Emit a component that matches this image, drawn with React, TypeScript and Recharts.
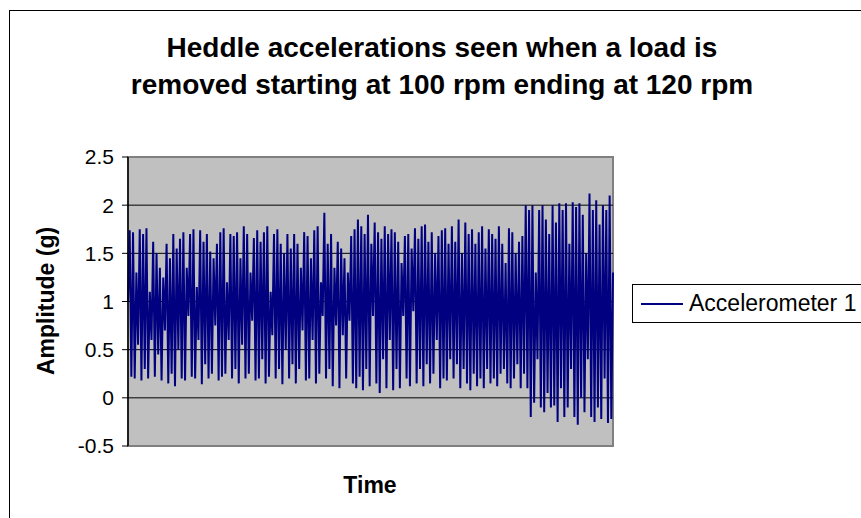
import { LineChart, Line, XAxis, YAxis, ReferenceLine, ReferenceArea } from 'recharts'

// accelerometer samples, left to right
const segStart = [
  1.0, 1.74, 0.22, 1.72, 0.2, 1.3, 0.55, 1.75, 0.18, 1.7, 0.3, 1.76, 0.2, 1.1, 0.6, 1.62,
  0.22, 1.5, 0.45, 1.35, 0.18, 1.25, 0.7, 1.6, 0.15, 1.45, 0.25, 1.7, 0.12, 1.55, 0.5, 1.65,
  0.2, 1.72, 0.18, 1.35, 0.85, 1.7, 0.22, 1.75, 0.2, 1.15, 0.6, 1.74, 0.14, 1.62, 0.35, 1.7,
  0.2, 1.52, 0.25, 1.45, 0.75, 1.6, 0.18, 1.72, 0.22, 1.76, 0.25, 1.2, 0.6, 1.7, 0.2, 1.68,
  0.3, 1.72, 0.15, 1.45, 0.55, 1.78, 0.2, 1.7, 0.25, 1.3, 0.8, 1.66, 0.18, 1.74, 0.2, 1.62,
  0.4, 1.72, 0.15, 1.78, 0.22, 1.1, 0.65, 1.7, 0.2, 1.75, 0.3, 1.6, 0.14, 1.5, 0.5, 1.7,
]
const segMiddle = [
  0.2, 1.55, 0.35, 1.7, 0.15, 1.6, 0.3, 1.35, 0.7, 1.72, 0.18, 1.68, 0.2, 1.45, 0.6, 1.74,
  0.15, 1.78, 0.25, 1.2, 0.85, 1.92, 0.2, 1.6, 0.3, 1.7, 0.12, 1.35, 0.75, 1.62, 0.1, 1.55,
  0.65, 1.45, 0.2, 1.3, 0.8, 1.68, 0.15, 1.75, 0.1, 1.85, 0.22, 1.78, 0.08, 1.7, 0.3, 1.9,
  0.12, 1.6, 0.85, 1.82, 0.15, 1.72, 0.05, 1.65, 0.4, 1.78, 0.1, 1.7, 0.6, 1.75, 0.08, 1.72,
  0.3, 1.62, 0.1, 1.4, 0.85, 1.68, 0.2, 1.7, 0.12, 1.55, 0.9, 1.76, 0.15, 1.65, 0.3, 1.78,
  0.12, 1.8, 0.35, 1.62, 0.15, 1.72, 0.25, 1.5, 0.6, 1.68, 0.1, 1.74, 0.2, 1.76, 0.18, 1.6,
]
const segLate = [
  0.4, 1.78, 0.2, 1.62, 0.35, 1.85, 0.1, 1.5, 0.3, 1.82, 0.15, 1.7, 0.08, 1.75, 0.25, 1.6,
  0.12, 1.72, 0.2, 1.78, 0.1, 1.55, 0.3, 1.75, 0.15, 1.7, 0.2, 1.65, 0.12, 1.78, 0.25, 1.6,
  0.3, 1.4, 0.15, 1.76, 0.1, 1.72, 0.2, 1.5, 0.35, 1.62, 0.1, 1.68,
]
const segUnloaded = [
  0.25, 2.0, 0.1, 1.95, -0.2, 2.0, -0.05, 1.3, 0.4, 1.95, -0.1, 2.0, -0.15, 1.85, 0.05, 1.7,
  -0.1, 2.0, -0.08, 1.82, -0.25, 2.02, 0.1, 1.95, -0.2, 2.02, -0.1, 1.6, 0.3, 2.03, -0.2, 1.98,
  -0.28, 2.02, 0.0, 1.9, -0.15, 1.5, 0.4, 2.12, -0.2, 1.95, -0.25, 2.05, -0.1, 1.8, -0.22, 2.0,
  0.2, 1.95, -0.26, 2.1, -0.22, 1.3,
]

const accelerometer1 = [...segStart, ...segMiddle, ...segLate, ...segUnloaded]
const yTicks = [-0.5, 0, 0.5, 1, 1.5, 2, 2.5]
const gridValues = [0, 0.5, 1, 1.5, 2]

const data = accelerometer1.map((v, i) => ({ t: i, a1: v }))

const font = '"Liberation Sans", Arial, sans-serif'

export default function App() {
  return (
    <div style={{ position: 'absolute', left: 0, top: 0, width: 861, height: 518, overflow: 'hidden', background: '#fff', fontFamily: font }}>
      <div style={{ position: 'absolute', left: 9, top: 10, width: 900, height: 560, border: '1px solid #000' }} />

      <div style={{ position: 'absolute', left: 0, top: 29, width: 884, textAlign: 'center', fontSize: 28, fontWeight: 'bold', lineHeight: '37px' }}>
        Heddle accelerations seen when a load is
        <br />
        removed starting at 100 rpm ending at 120 rpm
      </div>

      <LineChart width={861} height={518} data={data} margin={{ top: 157, right: 248, bottom: 72, left: 68 }} style={{ position: 'absolute', left: 0, top: 0 }}>
        <XAxis dataKey="t" hide />
        <ReferenceArea y1={-0.5} y2={2.5} fill="#C0C0C0" fillOpacity={1} stroke="#808080" strokeWidth={2} />
        {gridValues.map((g) => (
          <ReferenceLine key={g} y={g} stroke="#000" strokeWidth={1} />
        ))}
        <YAxis
          width={60}
          domain={[-0.5, 2.5]}
          ticks={yTicks}
          interval={0}
          axisLine={{ stroke: '#000', strokeWidth: 1.5 }}
          tickLine={{ stroke: '#000' }}
          tickSize={6}
          tickMargin={8}
          tick={{ fill: '#000', fontSize: 21, fontFamily: font }}
        />
        <Line type="linear" dataKey="a1" stroke="#000080" strokeWidth={2} dot={false} isAnimationActive={false} />
      </LineChart>

      <div style={{ position: 'absolute', left: 46, top: 301, transform: 'translate(-50%, -50%) rotate(-90deg)', fontSize: 23, fontWeight: 'bold', whiteSpace: 'nowrap' }}>
        Amplitude (g)
      </div>
      <div style={{ position: 'absolute', left: 370, top: 485, transform: 'translate(-50%, -50%)', fontSize: 23, fontWeight: 'bold' }}>
        Time
      </div>

      <div style={{ position: 'absolute', left: 632, top: 284, width: 260, height: 37, border: '1px solid #000', background: '#fff' }}>
        <div style={{ position: 'absolute', left: 8, top: 18, width: 42, height: 2, background: '#000080' }} />
        <div style={{ position: 'absolute', left: 56, top: 4, fontSize: 23, lineHeight: '28px' }}>Accelerometer 1</div>
      </div>
    </div>
  )
}
